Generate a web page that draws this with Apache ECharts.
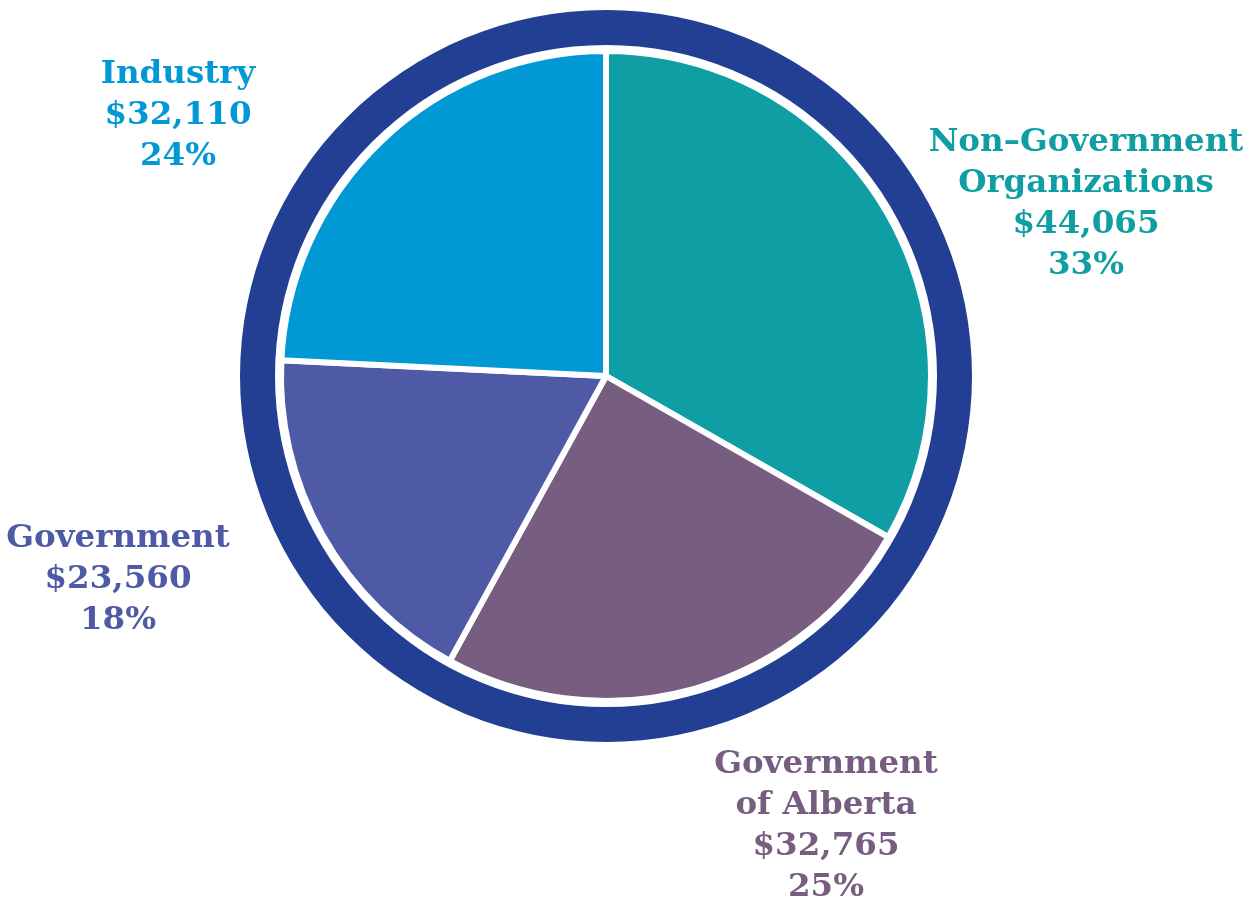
<!DOCTYPE html>
<html>
<head>
<meta charset="utf-8">
<script src="https://cdn.jsdelivr.net/npm/echarts@6/dist/echarts.min.js"></script>
<style>
html,body{margin:0;padding:0;background:#fff;}
#chart{width:1251px;height:901px;}
</style>
</head>
<body>
<div id="chart"></div>
<script>
const categories = ['Non–Government\nOrganizations', 'Government\nof Alberta', 'Government', 'Industry'];
const amounts = [44065, 32765, 23560, 32110];
const percents = [33, 25, 18, 24];
const colors = ['#0E9EA3', '#775D80', '#4F5AA7', '#0099D5'];
const labelPos = [[1086, 204], [826, 826], [118, 580], [178, 116]];

const chart = echarts.init(document.getElementById('chart'), null, {renderer: 'canvas'});
const fmt = v => v.toLocaleString('en-US');
const option = {
  animation: false,
  backgroundColor: '#ffffff',
  series: [
    {
      type: 'pie',
      silent: true,
      center: [606, 376],
      radius: [331, 366],
      label: {show: false},
      labelLine: {show: false},
      itemStyle: {color: '#233F94'},
      data: [{value: 1, name: 'ring'}]
    },
    {
      type: 'pie',
      center: [606, 376],
      radius: [0, 325],
      startAngle: 90,
      clockwise: true,
      itemStyle: {borderColor: '#ffffff', borderWidth: 6},
      labelLine: {show: false},
      label: {
        show: true,
        overflow: 'none',
        formatter: p => p.name + '\n$' + fmt(p.value) + '\n' + percents[p.dataIndex] + '%',
        fontFamily: '"DejaVu Serif", serif',
        fontWeight: 'bold',
        fontSize: 32.5,
        lineHeight: 41,
        align: 'center'
      },
      labelLayout: function (params) {
        const pos = labelPos[params.dataIndex];
        return {x: pos[0], y: pos[1], align: 'center', verticalAlign: 'middle'};
      },
      data: categories.map((c, i) => ({
        name: c,
        value: amounts[i],
        itemStyle: {color: colors[i]},
        label: {color: colors[i]}
      }))
    }
  ]
};
chart.setOption(option);
</script>
</body>
</html>
